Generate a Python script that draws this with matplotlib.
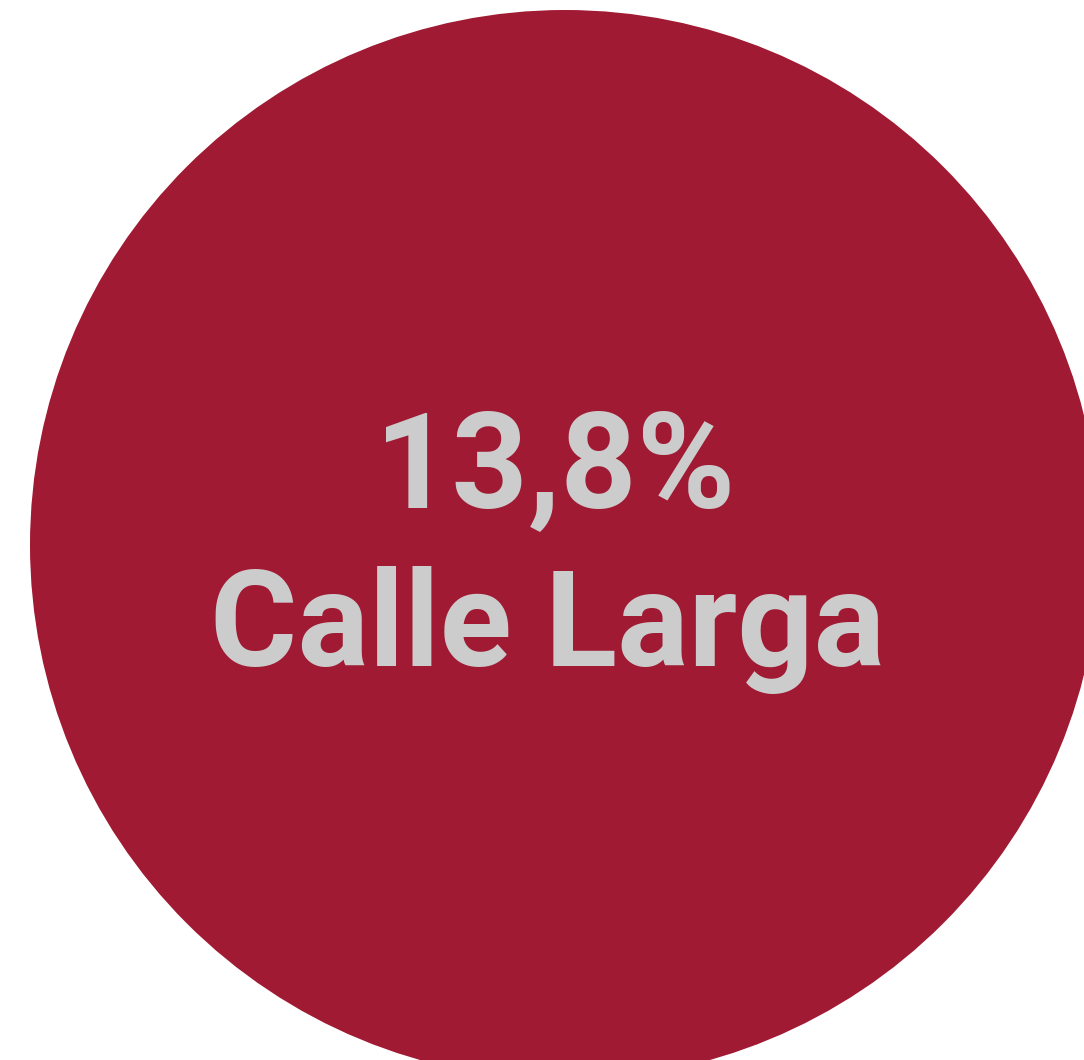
import matplotlib
matplotlib.use('Agg')
import matplotlib.pyplot as plt
from matplotlib.patches import Circle

# data
labels = ['Calle Larga']
values = [13.8]

bubble_color = '#A01A33'
text_color = '#CCCCCC'

fig = plt.figure(figsize=(10.84, 10.60), dpi=100)
ax = fig.add_axes([0, 0, 1, 1])
ax.set_xlim(0, 1084)
ax.set_ylim(1060, 0)
ax.set_aspect('equal')
ax.axis('off')

ax.add_patch(Circle((565, 545), 535, color=bubble_color, lw=0))

value_txt = '{:.1f}%'.format(values[0]).replace('.', ',')
ax.text(555, 507, value_txt, ha='center', va='baseline', fontsize=96,
        fontweight='bold', family=['Roboto', 'DejaVu Sans'], color=text_color)
ax.text(547, 666, labels[0], ha='center', va='baseline', fontsize=96,
        fontweight='bold', family=['Roboto', 'DejaVu Sans'], color=text_color)

fig.savefig('out.png', dpi=100)
